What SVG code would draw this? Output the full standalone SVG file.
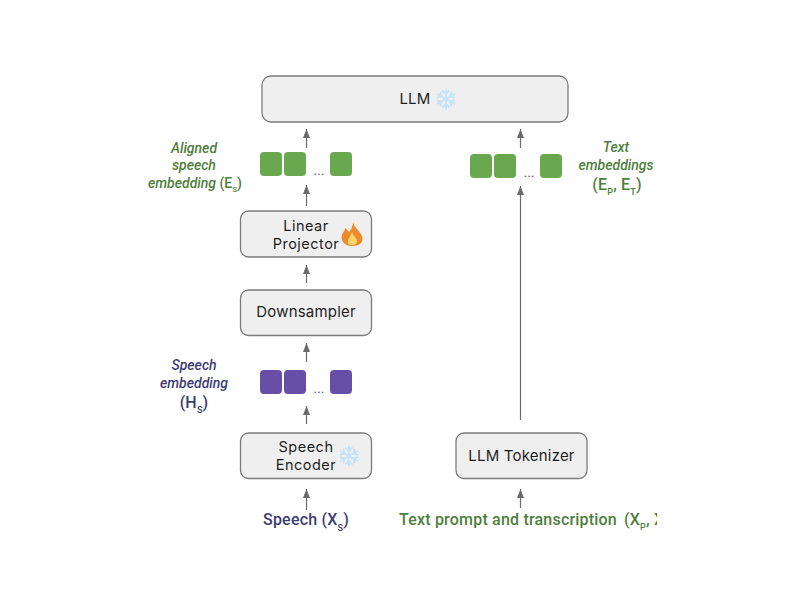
<svg xmlns="http://www.w3.org/2000/svg" width="800" height="600" viewBox="0 0 800 600">
<style>
.box{fill:#efefef;stroke:#7b7b7b;stroke-width:1.3}
.nt{font-family:Inter,"Open Sans",sans-serif;font-size:15px;font-weight:400;letter-spacing:.2px;fill:#1e1e1e;text-anchor:middle}
.two{font-size:14.5px;letter-spacing:.5px}
.lab{font-family:Roboto,"Liberation Sans",sans-serif;font-size:14px;font-weight:500;text-anchor:middle}
.big{font-size:16px;letter-spacing:.2px}
.start{text-anchor:start}
.it{font-style:italic}
.g{fill:#4e7f3c}
.p{fill:#3d3d72}
.sq{fill:#6aa84f}
.pu{fill:#674ea7}
.dots{font-family:Roboto,sans-serif;font-size:14px;text-anchor:middle;fill:#555b80}
.conn{stroke:#6a6a6a;stroke-width:1.2;fill:none;marker-end:url(#ah)}
.ice{stroke:#c4e5f8;stroke-width:2;stroke-linecap:round;fill:none}
</style>
<defs>
<marker id="ah" markerUnits="userSpaceOnUse" markerWidth="10" markerHeight="8" refX="9" refY="4" orient="auto" viewBox="0 0 10 8"><path d="M0 .5 L9 4 L0 7.5 Z" fill="#6a6a6a"/></marker>
<clipPath id="clipR"><rect x="380" y="500" width="277" height="40"/></clipPath>
<clipPath id="clipS"><rect x="240" y="500" width="130" height="31"/></clipPath>
<g id="arm"><path class="ice" d="M0 0V-9.500M-3 -8L0 -5L3 -8"/></g>
<g id="flake">
<use href="#arm"/><use href="#arm" transform="rotate(60)"/><use href="#arm" transform="rotate(120)"/>
<use href="#arm" transform="rotate(180)"/><use href="#arm" transform="rotate(240)"/><use href="#arm" transform="rotate(300)"/>
</g>
</defs>
<rect width="800" height="600" fill="#fff"/>
<g id="connectors">
<path class="conn" d="M306.500 148V129"/>
<path class="conn" d="M306.500 206V185"/>
<path class="conn" d="M306.500 283V265"/>
<path class="conn" d="M306.500 362V343"/>
<path class="conn" d="M306.500 424V406"/>
<path class="conn" d="M306.500 510V489"/>
<path class="conn" d="M520.500 148V129"/>
<path class="conn" d="M520.500 420V186"/>
<path class="conn" d="M520.500 508V489"/>
</g>
<g id="llm">
<rect class="box" x="262" y="76" width="306" height="46" rx="9"/>
<text class="nt" x="415" y="104">LLM</text>
<use href="#flake" transform="translate(446 99)"/>
</g>
<g id="linear-projector">
<rect class="box" x="240.500" y="211" width="131" height="46" rx="8"/>
<text class="nt two" x="306" y="230.500">Linear</text>
<text class="nt two" x="306" y="248.500">Projector</text>
<path d="M353 222C354 227 359 230 362 236C364 242 360 246 352 246C345 246 340 241 342 235C343 232 345 231 345 228C347 229 348 231 349 232C351 230 353 226 353 222Z" fill="#ee8a2a"/>
<path d="M352 232C353 236 357 238 357 241C357 244 354 245 352 245C349 245 347 243 348 240C349 238 351 235 352 232Z" fill="#fcd66a"/>
</g>
<g id="downsampler">
<rect class="box" x="240.500" y="290" width="131" height="45.500" rx="8"/>
<text class="nt" x="306" y="317">Downsampler</text>
</g>
<g id="speech-encoder">
<rect class="box" x="240.500" y="433" width="131" height="45.500" rx="8"/>
<text class="nt two" x="306" y="451.500">Speech</text>
<text class="nt two" x="306" y="469.500">Encoder</text>
<use href="#flake" transform="translate(349 456)"/>
</g>
<g id="llm-tokenizer">
<rect class="box" x="456" y="433" width="131" height="45.500" rx="8"/>
<text class="nt" x="521.500" y="461">LLM Tokenizer</text>
</g>
<g id="aligned-speech-tokens">
<rect class="sq" x="260" y="152" width="22" height="24" rx="4"/>
<rect class="sq" x="284" y="152" width="22" height="24" rx="4"/>
<rect class="sq" x="330" y="152" width="22" height="24" rx="4"/>
<text class="dots" x="319" y="175">...</text>
</g>
<g id="text-tokens">
<rect class="sq" x="470" y="154" width="22" height="24" rx="4"/>
<rect class="sq" x="494" y="154" width="22" height="24" rx="4"/>
<rect class="sq" x="540" y="154" width="22" height="24" rx="4"/>
<text class="dots" x="529" y="177">...</text>
</g>
<g id="speech-tokens">
<rect class="pu" x="260" y="370" width="22" height="24" rx="4"/>
<rect class="pu" x="284" y="370" width="22" height="24" rx="4"/>
<rect class="pu" x="330" y="370" width="22" height="24" rx="4"/>
<text class="dots" x="319" y="393">...</text>
</g>
<g id="label-aligned">
<text class="lab it g" x="194" y="153">Aligned</text>
<text class="lab it g" x="194" y="170">speech</text>
<text class="lab g" x="195" y="188"><tspan class="it">embedding</tspan> (E<tspan font-size="8" dy="4">S</tspan><tspan dy="-4">)</tspan></text>
</g>
<g id="label-text-emb">
<text class="lab it g" x="616" y="152">Text</text>
<text class="lab it g" x="616" y="170">embeddings</text>
<text class="lab big g" x="617" y="190">(E<tspan font-size="9" dy="5">P</tspan><tspan dy="-5">, E</tspan><tspan font-size="9" dy="5">T</tspan><tspan dy="-5">)</tspan></text>
</g>
<g id="label-speech-emb">
<text class="lab it p" x="194" y="370">Speech</text>
<text class="lab it p" x="194" y="388">embedding</text>
<text class="lab big p" x="194" y="408">(H<tspan font-size="9" dy="5">S</tspan><tspan dy="-5">)</tspan></text>
</g>
<g id="label-speech" clip-path="url(#clipS)">
<text class="lab big p" x="306" y="525">Speech (X<tspan font-size="9" dy="6">S</tspan><tspan dy="-6">)</tspan></text>
</g>
<g id="label-prompt" clip-path="url(#clipR)">
<text class="lab big g start" x="399" y="525">Text prompt and transcription <tspan x="624">(X</tspan><tspan font-size="9" dy="5">P</tspan><tspan dy="-5">, X</tspan><tspan font-size="9" dy="5">T</tspan><tspan dy="-5">)</tspan></text>
</g>
</svg>
